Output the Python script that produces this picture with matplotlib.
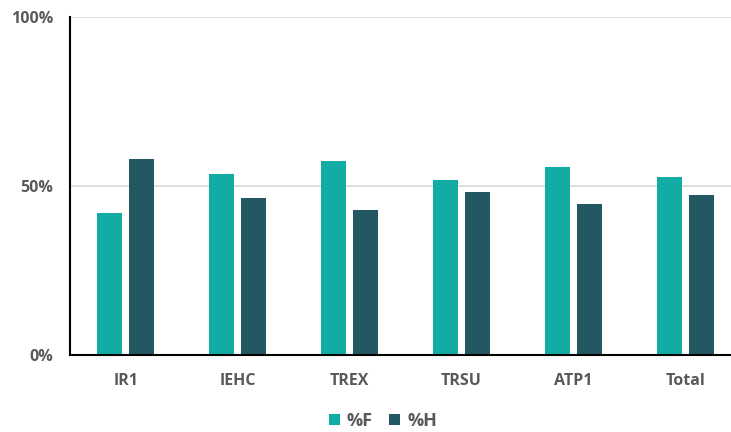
import numpy as np
import matplotlib.pyplot as plt

# Share of %F and %H per group
categories = ["IR1", "IEHC", "TREX", "TRSU", "ATP1", "Total"]
pct_f = [0.42, 0.536, 0.572, 0.518, 0.555, 0.526]
pct_h = [0.58, 0.464, 0.428, 0.482, 0.445, 0.474]
yticks = [0.0, 0.5, 1.0]
ytick_labels = ["0%", "50%", "100%"]

color_f = "#12ACA5"
color_h = "#215862"
text_color = "#595959"

plt.rcParams["font.family"] = ["Open Sans", "DejaVu Sans"]

fig = plt.figure(figsize=(7.31, 4.32), dpi=100)
ax = fig.add_axes([70 / 731, 1 - 355 / 432, 1 - 70 / 731, (355 - 16.5) / 432])

x = np.arange(len(categories))
w = 0.224
off = 0.143
ax.bar(x - off, pct_f, width=w, color=color_f, label="%F", zorder=3)
ax.bar(x + off, pct_h, width=w, color=color_h, label="%H", zorder=3)

ax.set_xlim(-0.5, 5.41)
ax.set_ylim(0, 1)
ax.set_yticks(yticks)
ax.set_yticklabels(ytick_labels)
ax.set_xticks(x)
ax.set_xticklabels(categories)

for lbl in ax.get_xticklabels() + ax.get_yticklabels():
    lbl.set_fontweight("bold")
    lbl.set_fontsize(11.5)
    lbl.set_color(text_color)

ax.tick_params(axis="both", length=0)
ax.tick_params(axis="x", pad=13)
ax.tick_params(axis="y", pad=12)

ax.yaxis.grid(True, color="#D9D9D9", linewidth=1.2, zorder=0)
ax.set_axisbelow(True)
for side in ["top", "right"]:
    ax.spines[side].set_visible(False)
ax.spines["left"].set_color("black")
ax.spines["left"].set_linewidth(1.5)
ax.spines["bottom"].set_color("black")
ax.spines["bottom"].set_linewidth(1.5)
ax.spines["bottom"].set_zorder(4)

leg = fig.legend(loc="center", bbox_to_anchor=(383 / 731, 1 - 421 / 432), ncol=2,
                 frameon=False, handlelength=0.6, handleheight=0.6,
                 handletextpad=0.4, columnspacing=0.9,
                 prop={"weight": "bold", "size": 13})
for t in leg.get_texts():
    t.set_color(text_color)

fig.savefig("out.png", dpi=100)
